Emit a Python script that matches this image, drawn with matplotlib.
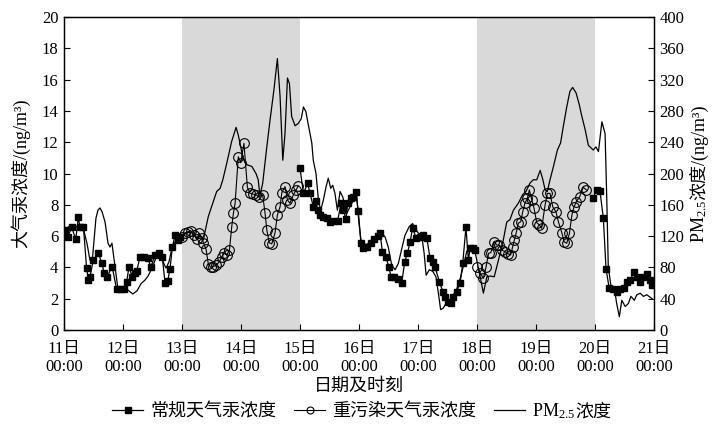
import matplotlib
matplotlib.use('Agg')
import matplotlib.pyplot as plt
from matplotlib.lines import Line2D

plt.rcParams['font.family'] = ['Liberation Serif', 'Noto Sans CJK SC']
plt.rcParams['mathtext.fontset'] = 'custom'
plt.rcParams['mathtext.rm'] = 'Liberation Serif'
plt.rcParams['mathtext.it'] = 'Liberation Serif:italic'
plt.rcParams['axes.unicode_minus'] = False

# ---------------- data (hours since 11日 00:00) ----------------
normal_t1 = [0.4, 1.5, 3.1, 4.8, 5.8, 6.5, 7.9, 9.2, 9.9, 10.6, 11.9, 14.0, 15.3, 16.4, 17.4,
             19.6, 21.4, 22.8, 24.5, 25.5, 26.4, 27.8, 28.9, 29.6, 30.9, 32.7, 34.0, 35.4,
             37.0, 38.6, 40.0, 41.1, 42.2, 43.1, 44.1, 45.2, 46.5, 47.2]
normal_v1 = [6.39, 5.92, 6.56, 5.80, 7.20, 6.58, 6.60, 3.94, 3.19, 3.41, 4.47, 4.90, 4.30, 3.62, 3.37,
             4.04, 2.60, 2.60, 2.60, 3.09, 4.01, 3.41, 3.62, 3.79, 4.65, 4.68, 4.58, 4.04,
             4.79, 4.94, 4.65, 3.02, 3.15, 3.88, 5.32, 6.07, 5.75, 5.95]

heavy_t1 = [47.9, 49.2, 50.6, 51.5, 52.9, 54.0, 55.0, 56.0, 56.7, 57.8, 58.7, 59.7, 60.7, 61.8,
            63.2, 64.2, 65.1, 66.2, 67.3, 68.2, 68.9, 69.6, 70.9, 71.9, 73.2, 74.6, 75.7, 76.8,
            78.1, 79.5, 80.8, 81.8, 82.5, 83.5, 84.5, 85.8, 86.8, 87.9, 88.6, 89.9, 90.9, 91.9,
            93.3, 94.4, 95.3]
heavy_v1 = [5.96, 6.18, 6.28, 6.35, 6.07, 5.79, 6.18, 5.86, 5.58, 5.15, 4.22, 4.00, 4.05, 4.13,
            4.36, 4.68, 4.90, 4.79, 5.11, 6.56, 7.45, 8.10, 11.07, 10.69, 11.93, 9.12, 8.73, 8.69,
            8.63, 8.52, 8.63, 7.45, 6.39, 5.58, 5.50, 6.18, 7.35, 7.88, 8.77, 9.16, 8.31, 8.10,
            8.63, 8.95, 9.20]

normal_t2 = [96.0, 97.4, 99.1, 100.1, 101.4, 102.4, 103.2, 104.1, 105.5, 106.9, 108.2, 109.6, 111.3,
             112.7, 113.6, 114.7, 115.4, 116.8, 117.7, 118.7, 119.7, 120.8, 121.8, 123.1, 124.9,
             126.2, 127.6, 128.6, 129.5, 130.9, 132.2, 133.0, 134.4, 136.0, 137.4, 138.6, 139.7,
             140.8, 141.8, 143.3, 144.8, 146.2, 147.6, 148.9, 150.2, 150.9, 152.7, 154.1, 155.0,
             156.3, 157.3, 158.4, 159.7, 161.1, 162.2, 163.5, 164.5, 165.2, 166.2, 167.0]
normal_v2 = [10.33, 8.73, 9.37, 8.73, 7.88, 8.26, 7.67, 7.35, 7.24, 7.14, 6.92, 6.96, 6.98,
             8.10, 7.67, 7.07, 8.10, 8.41, 8.52, 8.84, 7.62, 5.54, 5.22, 5.32, 5.54,
             5.80, 6.01, 6.18, 5.00, 4.68, 4.01, 3.41, 3.41, 3.24, 3.02, 4.36, 4.90,
             5.64, 6.50, 5.86, 5.96, 6.07, 5.86, 4.58, 4.36, 4.04, 3.09, 2.45, 2.13,
             1.81, 1.70, 2.13, 2.45, 2.98, 4.26, 6.56, 4.47, 5.22, 5.22, 5.11]

heavy_t2 = [168.2, 169.3, 170.6, 171.7, 172.7, 173.6, 175.0, 176.0, 177.1, 178.1, 179.4, 180.8,
            181.7, 182.5, 183.2, 183.9, 184.8, 185.8, 186.6, 187.5, 188.5, 189.3, 190.3, 191.2,
            192.3, 193.4, 194.3, 195.7, 196.6, 197.7, 198.8, 200.1, 201.1, 202.5, 203.4, 204.5,
            205.6, 206.6, 207.4, 208.4, 209.8, 211.2, 212.5]
heavy_v2 = [4.04, 3.66, 3.30, 4.04, 4.90, 4.94, 5.64, 5.43, 5.43, 5.11, 5.00, 4.86,
            4.79, 5.32, 5.75, 6.18, 6.82, 6.92, 7.56, 8.10, 8.41, 8.95, 8.31, 7.78,
            6.86, 6.71, 6.50, 7.99, 8.73, 8.73, 7.88, 7.56, 6.92, 6.22, 5.64, 5.54,
            6.18, 7.35, 7.84, 8.20, 8.52, 9.12, 8.95]

normal_t3 = [215.1, 216.7, 218.0, 219.4, 220.5, 221.8, 223.2, 224.8, 226.2, 227.8, 229.2, 230.3,
             231.9, 233.0, 234.4, 235.7, 237.1, 238.2, 239.2]
normal_v3 = [8.41, 8.95, 8.90, 7.14, 3.88, 2.66, 2.60, 2.45, 2.60, 2.66, 3.09, 3.19,
             3.73, 3.41, 3.09, 3.41, 3.58, 3.19, 2.88]

pm_t = [0, 2, 4, 6, 8, 9.4, 10.5, 11.4, 13.0, 13.8, 14.6, 15.5, 16.7, 17.9, 18.7, 19.5, 20.7,
        22.0, 23.6, 25.6, 26.8, 28.0, 29.7, 31.3, 33.0, 34.2, 35.8, 37.4, 39.0, 40.3, 41.5,
        42.7, 43.9, 45.6, 47.2, 48.5, 50, 52, 54, 55.5, 56.7, 57.8, 58.7, 60.1, 62.1, 63.5,
        64.6, 66.2, 68.2, 70.0, 70.9, 71.9, 72.7, 73.6, 74.6, 76.4, 78.1, 79.0, 79.7, 80.8,
        82.5, 83.8, 85.4, 86.8, 87.9, 89.0, 89.9, 90.9, 91.7, 92.6, 94.0, 95.3, 96.5, 97.4,
        98.4, 99.4, 100.8, 101.4, 102.5, 103.5, 104.4, 105.5, 106.6, 107.5, 108.5, 109.3,
        110.2, 111.2, 112.3, 113.4, 114.3, 115.0, 117.7, 119.0, 120.0, 120.8, 121.8, 123.5,
        124.9, 126.5, 128.6, 130.6, 131.9, 133.3, 134.7, 136.0, 137.4, 138.7, 140.4, 141.8,
        142.8, 144.1, 145.5, 146.5, 147.3, 148.6, 150.0, 151.3, 152.3, 153.2, 154.3, 155.7,
        157.0, 158.4, 159.7, 161.4, 162.7, 163.8, 164.9, 165.8, 167.2, 169.3, 170.6, 172.0,
        173.4, 175.0, 176.7, 178.7, 180.1, 181.4, 182.8, 184.8, 186.6, 187.9, 189.6, 190.9,
        192.3, 193.7, 194.8, 195.7, 196.6, 197.7, 199.1, 200.7, 202.0, 203.1, 204.5, 205.8,
        206.9, 208.3, 209.6, 210.5, 212.0, 213.3, 215.3, 216.4, 217.4, 218.8, 220.1, 220.8,
        221.4, 222.8, 224.2, 224.8, 225.9, 226.9, 228.3, 229.6, 230.6, 232.0, 233.0, 234.4,
        235.7, 237.1, 239.2]
pm_v = [128, 132, 130, 134, 128, 110, 90, 85, 143, 153, 156, 151, 138, 111, 106, 111, 82,
        51, 51, 52, 49, 46, 50, 59, 64, 69, 79, 92, 96, 87, 79,
        87, 105, 115, 120, 122, 125, 124, 118, 120, 115, 132, 145, 158, 177, 181,
        192, 213, 241, 259, 249, 234, 221, 214, 211, 209, 200, 192, 172, 187,
        234, 268, 307, 347, 298, 217, 251, 322, 315, 273, 261, 264, 270, 285,
        279, 262, 239, 217, 200, 166, 153, 166, 183, 194, 181, 185,
        175, 153, 177, 170, 158, 149, 166, 173, 136, 115, 109, 110,
        114, 119, 126, 119, 106, 83, 77, 85, 104, 121, 132, 136,
        130, 124, 121, 98, 70, 77, 75, 68, 47, 26, 28, 36,
        38, 45, 52, 68, 85, 100, 106, 107, 100, 68, 47, 68,
        69, 68, 89, 115, 138, 141, 153, 162, 173, 177, 188, 192,
        192, 204, 192, 179, 177, 192, 209, 230, 239, 260, 285, 305,
        310, 303, 288, 275, 256, 236, 230, 234, 228, 266, 251, 166,
        81, 49, 47, 34, 17, 38, 30, 34, 43, 38, 45, 47,
        43, 45, 40]

heavy_spans = [(48, 96), (168, 216)]
day_labels = ['11日', '12日', '13日', '14日', '15日', '16日', '17日', '18日', '19日', '20日', '21日']
left_ticks = [0, 2, 4, 6, 8, 10, 12, 14, 16, 18, 20]
right_ticks = [0, 40, 80, 120, 160, 200, 240, 280, 320, 360, 400]
legend_labels = ['常规天气汞浓度', '重污染天气汞浓度']

# ---------------- figure ----------------
W, H = 713, 428
fig = plt.figure(figsize=(W / 100, H / 100), dpi=100)
ax = fig.add_axes([64 / W, 1 - 330 / H, 590 / W, 313 / H])
ax2 = ax.twinx()

for a, b in heavy_spans:
    ax.axvspan(a, b, color='#d9d9d9', lw=0, zorder=0)

sq_kw = dict(color='black', lw=0.9, marker='s', markersize=5, mfc='black', mec='black', zorder=3)
ci_kw = dict(color='black', lw=0.8, marker='o', markersize=7, mfc='none', mec='black',
             mew=0.8, zorder=3)
for t, v in [(normal_t1, normal_v1), (normal_t2, normal_v2), (normal_t3, normal_v3)]:
    ax.plot(t, v, **sq_kw)
for t, v in [(heavy_t1, heavy_v1), (heavy_t2, heavy_v2)]:
    ax.plot(t, v, **ci_kw)
ax2.plot(pm_t, pm_v, color='black', lw=0.9, zorder=2)

ax.set_xlim(0, 240)
ax.set_ylim(0, 20)
ax2.set_ylim(0, 400)
ax.set_xticks([24 * i for i in range(len(day_labels))])
ax.set_xticklabels([d + '\n00:00' for d in day_labels], fontsize=12, linespacing=1.15)
ax.set_yticks(left_ticks)
ax.set_yticklabels([str(v) for v in left_ticks], fontsize=12)
ax2.set_yticks(right_ticks)
ax2.set_yticklabels([str(v) for v in right_ticks], fontsize=12)
ax.tick_params(axis='y', direction='in', length=4, width=0.8, pad=4)
ax.tick_params(axis='x', direction='in', length=4, width=0.8, pad=8)
ax2.tick_params(axis='y', direction='in', length=4, width=0.8, pad=4)
for a in (ax, ax2):
    for s in a.spines.values():
        s.set_linewidth(0.9)

fig.text(20 / W, 1 - 173 / H, '大气汞浓度/(ng/m³)', rotation=90, ha='center', va='center',
         fontsize=13)
fig.text(359 / W, 1 - 386 / H, '日期及时刻', ha='center', va='center', fontsize=13)

handles = [Line2D([], [], color='black', lw=0.9, marker='s', markersize=4, mfc='black'),
           Line2D([], [], color='black', lw=0.8, marker='o', markersize=5, mfc='none', mew=0.8),
           Line2D([], [], color='black', lw=0.9)]
leg = fig.legend(handles, legend_labels + [r'PM$_{2.5}\qquad$'], loc='center',
                 bbox_to_anchor=(344 / W, 1 - 411 / H), ncol=3, frameon=False, fontsize=13,
                 handlelength=1.7, handletextpad=0.4, columnspacing=1.0, borderpad=0)

fig.canvas.draw()
r = fig.canvas.get_renderer()
inv = fig.transFigure.inverted()

# legend: append CJK part after PM2.5
lt = leg.get_texts()[2]
bx, by = lt.get_transform().transform(lt.get_position())
tmp = fig.text(0, 0, r'PM$_{2.5}$', fontsize=13)
w_pm = tmp.get_window_extent(r).width
tmp.remove()
fx, fy = inv.transform((bx + w_pm, by))
fig.text(fx, fy, '浓度', fontsize=13, ha='left', va='baseline')

# right axis label composed of two rotated pieces
xb = 704
p1 = fig.text(0, 0, r'PM$_{2.5}$', fontsize=13, rotation=90, rotation_mode='anchor',
              ha='left', va='baseline')
p2 = fig.text(0, 0, '浓度/(ng/m³)', fontsize=13, rotation=90, rotation_mode='anchor',
              ha='left', va='baseline')
l1 = p1.get_window_extent(r).height
l2 = p2.get_window_extent(r).height
yc = H - 173.5
y0 = yc - (l1 + l2) / 2
p1.set_position(inv.transform((xb, y0)))
p2.set_position(inv.transform((xb, y0 + l1)))

fig.savefig('out.png', dpi=100)
